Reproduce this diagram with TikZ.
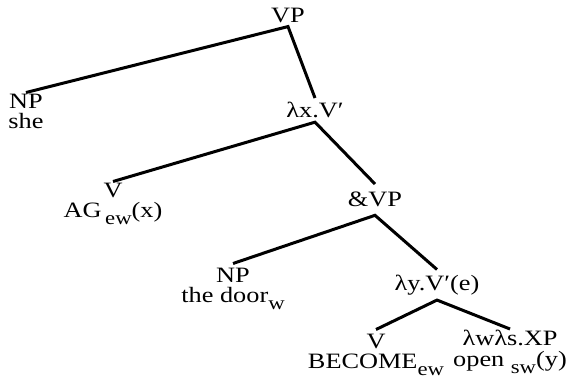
\documentclass[tikz,border=0pt]{standalone}
\usepackage{fontspec}
\setmainfont{Liberation Serif}[FakeStretch=1.2]
\usepackage{xcolor}
\usepackage{tikz}
\usetikzlibrary{positioning}
\definecolor{inkc}{HTML}{000000}
\newcommand{\lsub}[1]{\raisebox{-7bp}{\fontsize{19}{19}\selectfont #1}}
\tikzset{
  br/.style={line width=3bp,inkc,line join=miter},
  cat/.style={anchor=north,inner xsep=0pt,inner ysep=4bp,font=\fontsize{22}{21}\selectfont,text=inkc},
  leaf/.style={anchor=north,inner xsep=0pt,inner ysep=1bp,align=center,font=\fontsize{22}{21}\selectfont,text=inkc}
}
\begin{document}
\begin{tikzpicture}[x=1bp,y=-1bp]
\useasboundingbox (0,0) rectangle (566,379);
\node[cat] (vp) at (288,3.5) {VP};
\node[leaf] (np1) at (26,92.5) {NP\\she};
\node[cat] (lx) at (315,98) {λx.V′};
\node[leaf] (ag) at (113,181.5) {V\\AG\,\lsub{ew}(x)};
\node[cat,inner ysep=8bp] (andvp) at (375,184) {\&VP};
\node[leaf,inner ysep=4bp] (np2) at (233,263.5) {NP\\the door\lsub{w}};
\node[cat,inner ysep=5bp] (ly) at (437,269.5) {λy.V′(e)};
\node[leaf,inner ysep=4bp] (bec) at (376,329.5) {V\\BECOME\lsub{ew}};
\node[leaf] (xp) at (510,329) {λwλs.XP\\open \lsub{sw}(y)};
\draw[br] (np1.north) -- (vp.south) -- (lx.north);
\draw[br] (ag.north) -- (lx.south) -- (andvp.north);
\draw[br] (np2.north) -- (andvp.south) -- (ly.north);
\draw[br] (bec.north) -- (ly.south) -- (xp.north);
\end{tikzpicture}
\end{document}
